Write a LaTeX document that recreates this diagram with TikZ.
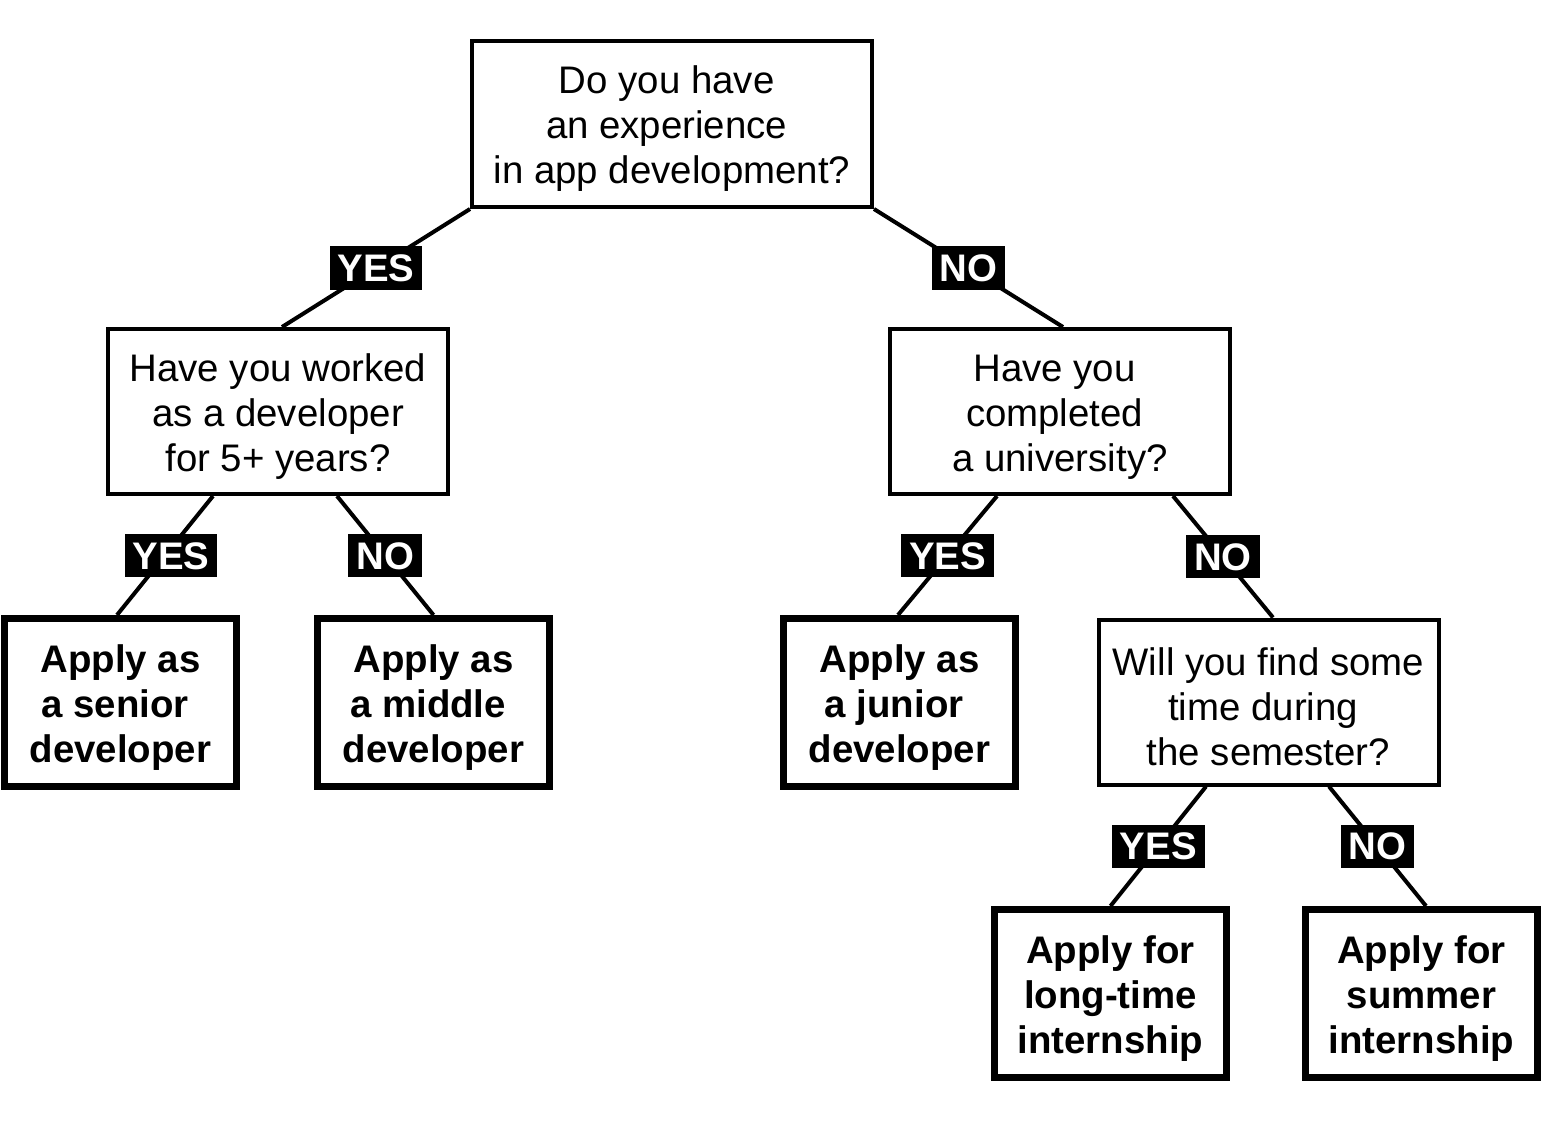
\documentclass[tikz,border=0pt]{standalone}
\usepackage{fontspec}
\setmainfont{Liberation Sans}
\newcommand\topgap{\rule{0pt}{18.6pt}}
\begin{document}
\begin{tikzpicture}[x=0.5pt,y=-0.5pt,
  txt/.style={font=\fontsize{19.2pt}{22.5pt}\selectfont},
  qbox/.style={draw, line width=2pt, align=center, minimum width=170pt, minimum height=82.5pt, inner sep=0pt, txt},
  ansbox/.style={draw, line width=3.5pt, align=center, minimum width=116pt, minimum height=84pt, inner sep=0pt, font=\bfseries\fontsize{19.2pt}{22.5pt}\selectfont},
  lbl/.style={fill=black, text=white, font=\bfseries\fontsize{19.2pt}{22.5pt}\selectfont, inner xsep=4pt, inner ysep=4pt, text height=13.7pt, text depth=0pt},
  conn/.style={line width=2pt}]
\useasboundingbox (0,0) rectangle (1541,1120);

\node[qbox, minimum width=200pt, minimum height=83pt] (root) at (672,124) {\topgap Do you have\kern0.28em\\an experience\kern0.28em\\in app development?};
\node[qbox] (lq) at (278,411.5) {\topgap Have you worked\\as a developer\\for 5+ years?};
\node[qbox] (rq) at (1060,411.5) {\topgap Have you\kern0.28em\\completed\kern0.28em\\a university?};
\node[qbox] (sq) at (1268.5,702) {\topgap Will you find some\\time during\kern0.28em\\the semester?};
\node[ansbox] (senior) at (120.5,702.5) {\topgap Apply as\\a senior\kern0.28em\\developer};
\node[ansbox] (middle) at (433.5,702.5) {\topgap Apply as\\a middle\kern0.28em\\developer};
\node[ansbox] (junior) at (899.5,702.5) {\topgap Apply as\\a junior\kern0.28em\\developer};
\node[ansbox] (long) at (1110.5,993.5) {\topgap Apply for\\long-time\\internship};
\node[ansbox] (summer) at (1421.5,993.5) {\topgap Apply for\\summer\\internship};

\draw[conn] (root.south west) -- ([xshift=2pt]lq.north) node[lbl,pos=.5]{YES};
\draw[conn] (root.south east) -- ([xshift=1.5pt]rq.north) node[lbl,pos=.5]{NO};
\draw[conn] ([xshift=-32.5pt]lq.south) -- ([xshift=-1.75pt]senior.north) node[lbl,pos=.5,xshift=3pt]{YES};
\draw[conn] ([xshift=29.5pt]lq.south) -- (middle.north) node[lbl,pos=.5]{NO};
\draw[conn] ([xshift=-31.5pt]rq.south) -- ([xshift=-0.75pt]junior.north) node[lbl,pos=.5]{YES};
\draw[conn] ([xshift=56.5pt]rq.south) -- ([xshift=2.25pt]sq.north) node[lbl,pos=.5]{NO};
\draw[conn] ([xshift=-31.25pt]sq.south) -- (long.north) node[lbl,pos=.5]{YES};
\draw[conn] ([xshift=30.25pt]sq.south) -- ([xshift=2.25pt]summer.north) node[lbl,pos=.5]{NO};
\end{tikzpicture}
\end{document}
